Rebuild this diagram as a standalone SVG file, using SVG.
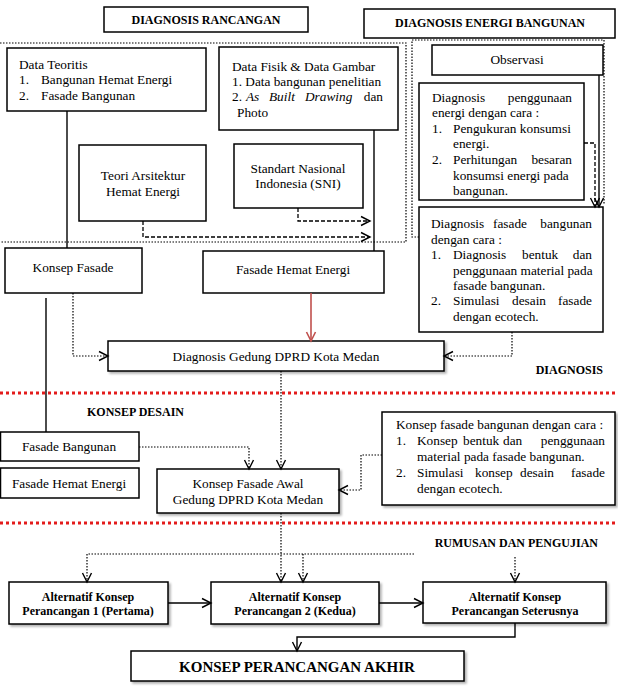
<svg xmlns="http://www.w3.org/2000/svg" width="618" height="699" viewBox="0 0 618 699">
<style>
.box{fill:#fff;stroke:#000;stroke-width:1.5}
.sh{filter:url(#shadow)}
text{font-family:"Liberation Serif","Times New Roman",serif;fill:#000}
.t{font-size:13.3px}
.b{font-size:12px;font-weight:bold}
.fin{font-size:15px;font-weight:bold}
.i{font-style:italic}
.c{text-anchor:middle}
.e{text-anchor:end}
.solid{fill:none;stroke:#000;stroke-width:1.4}
.dot{fill:none;stroke:#000;stroke-width:1.2;stroke-dasharray:1.5 1.5}
.dash{fill:none;stroke:#000;stroke-width:1.3;stroke-dasharray:4 2}
.red{fill:none;stroke:#c0504d;stroke-width:1.6}
.rdot{fill:none;stroke:#e31b1b;stroke-width:3;stroke-dasharray:3 3}
</style>
<defs>
<filter id="shadow" x="-10%" y="-20%" width="120%" height="150%">
<feDropShadow dx="2" dy="2" stdDeviation="1.2" flood-color="#000" flood-opacity="0.3"/>
</filter>
<marker id="ar" markerUnits="userSpaceOnUse" markerWidth="12" markerHeight="12" refX="10" refY="6" orient="auto">
<path d="M1,1.5 L10,6 L1,10.5" fill="none" stroke="#000" stroke-width="1.4"/>
</marker>
<marker id="arr" markerUnits="userSpaceOnUse" markerWidth="12" markerHeight="12" refX="10" refY="6" orient="auto">
<path d="M1,1.5 L10,6 L1,10.5" fill="none" stroke="#c0504d" stroke-width="1.6"/>
</marker>
</defs>

<g id="regions">
<path class="dot" d="M0,43 H406 V242 H0"/>
<path class="dot" d="M419,237 H412 V40 H604 V205"/>
<path class="rdot" d="M0,393 H618"/>
<path class="rdot" d="M0,523 H618"/>
</g>

<g id="labels">
<text class="b e" x="603" y="374">DIAGNOSIS</text>
<text class="b" x="87" y="416">KONSEP DESAIN</text>
<text class="b e" x="598" y="547">RUMUSAN DAN PENGUJIAN</text>
</g>

<g id="hdr-rancangan">
<rect class="box" x="104" y="7" width="204" height="25"/>
<text class="b c" x="206" y="24">DIAGNOSIS RANCANGAN</text>
</g>
<g id="hdr-energi">
<rect class="box" x="364" y="9" width="251" height="29"/>
<text class="b c" x="490" y="27">DIAGNOSIS ENERGI BANGUNAN</text>
</g>

<g id="data-teoritis">
<rect class="box" x="7" y="48" width="199" height="63"/>
<text class="t" x="19" y="69">Data Teoritis</text>
<text class="t" y="84"><tspan x="19">1.</tspan><tspan x="41">Bangunan Hemat Energi</tspan></text>
<text class="t" y="100"><tspan x="19">2.</tspan><tspan x="41">Fasade Bangunan</tspan></text>
</g>

<g id="data-fisik">
<rect class="box" x="219" y="47" width="179" height="83"/>
<text class="t" x="232" y="71">Data Fisik &amp; Data Gambar</text>
<text class="t" x="232" y="86">1. Data bangunan penelitian</text>
<text class="t" y="101"><tspan x="232">2.</tspan><tspan class="i" x="246">As</tspan><tspan class="i" x="269">Built</tspan><tspan class="i" x="305">Drawing</tspan></text>
<text class="t e" x="383" y="101">dan</text>
<text class="t" x="237" y="117">Photo</text>
</g>

<g id="teori">
<rect class="box" x="79" y="145" width="127" height="76"/>
<text class="t c" x="143" y="180">Teori Arsitektur</text>
<text class="t c" x="143" y="196">Hemat Energi</text>
</g>

<g id="sni">
<rect class="box" x="234" y="144" width="129" height="64"/>
<text class="t c" x="298" y="173">Standart Nasional</text>
<text class="t c" x="298" y="188">Indonesia (SNI)</text>
</g>

<g id="observasi">
<rect class="box" x="432" y="45" width="171" height="30"/>
<text class="t c" x="517" y="64">Observasi</text>
</g>

<g id="diag-energi">
<rect class="box" x="419" y="83" width="165" height="117"/>
<text class="t" x="432" y="102">Diagnosis</text>
<text class="t e" x="572" y="102">penggunaan</text>
<text class="t" x="432" y="117">energi dengan cara :</text>
<text class="t" y="132.5"><tspan x="432">1.</tspan><tspan x="453">Pengukuran konsumsi</tspan></text>
<text class="t" x="453" y="148">energi.</text>
<text class="t" y="164"><tspan x="432">2.</tspan><tspan x="453">Perhitungan</tspan></text>
<text class="t e" x="572" y="164">besaran</text>
<text class="t" x="453" y="179.5">konsumsi energi pada</text>
<text class="t" x="453" y="195">bangunan.</text>
</g>

<g id="diag-fasade">
<rect class="box" x="419" y="207" width="184" height="125"/>
<text class="t" y="228"><tspan x="431">Diagnosis</tspan><tspan x="493">fasade</tspan></text>
<text class="t e" x="592" y="228">bangunan</text>
<text class="t" x="431" y="244">dengan cara :</text>
<text class="t" y="259"><tspan x="431">1.</tspan><tspan x="453">Diagnosis</tspan><tspan x="522">bentuk</tspan></text>
<text class="t e" x="592" y="259">dan</text>
<text class="t" x="453" y="275">penggunaan material pada</text>
<text class="t" x="453" y="290">fasade bangunan.</text>
<text class="t" y="305"><tspan x="431">2.</tspan><tspan x="453">Simulasi</tspan><tspan x="512">desain</tspan></text>
<text class="t e" x="592" y="305">fasade</text>
<text class="t" x="453" y="321">dengan ecotech.</text>
</g>

<g id="konsep-fasade">
<rect class="box" x="5" y="248" width="137" height="45"/>
<text class="t c" x="73" y="272">Konsep Fasade</text>
</g>

<g id="fasade-hemat-1">
<rect class="box" x="203" y="251" width="181" height="42"/>
<text class="t c" x="293" y="274">Fasade Hemat Energi</text>
</g>

<g id="diag-gedung">
<rect class="box sh" x="108" y="341" width="336" height="30"/>
<text class="t c" x="276" y="361">Diagnosis Gedung DPRD Kota Medan</text>
</g>

<g id="fasade-bangunan">
<rect class="box" x="0.5" y="432" width="138.5" height="29"/>
<text class="t c" x="69" y="451">Fasade Bangunan</text>
</g>

<g id="fasade-hemat-2">
<rect class="box" x="0.5" y="468" width="138.5" height="30"/>
<text class="t c" x="69" y="488">Fasade Hemat Energi</text>
</g>

<g id="konsep-awal">
<rect class="box sh" x="157" y="469" width="182" height="44"/>
<text class="t c" x="248" y="488">Konsep Fasade Awal</text>
<text class="t c" x="248" y="504">Gedung DPRD Kota Medan</text>
</g>

<g id="konsep-cara">
<rect class="box sh" x="382" y="412" width="233" height="93"/>
<text class="t" x="396" y="429">Konsep fasade bangunan dengan cara :</text>
<text class="t" y="445"><tspan x="396">1.</tspan><tspan x="417">Konsep</tspan><tspan x="463">bentuk</tspan><tspan x="503">dan</tspan></text>
<text class="t e" x="605" y="445">penggunaan</text>
<text class="t" x="417" y="461">material pada fasade bangunan.</text>
<text class="t" y="477"><tspan x="396">2.</tspan><tspan x="417">Simulasi</tspan><tspan x="475">konsep</tspan><tspan x="520">desain</tspan></text>
<text class="t e" x="605" y="477">fasade</text>
<text class="t" x="417" y="493">dengan ecotech.</text>
</g>

<g id="alt-1">
<rect class="box sh" x="9" y="582" width="159" height="42"/>
<text class="b c" x="88" y="601">Alternatif Konsep</text>
<text class="b c" x="88" y="615">Perancangan 1 (Pertama)</text>
</g>

<g id="alt-2">
<rect class="box sh" x="211" y="582" width="168" height="42"/>
<text class="b c" x="295" y="601">Alternatif Konsep</text>
<text class="b c" x="295" y="615">Perancangan 2 (Kedua)</text>
</g>

<g id="alt-3">
<rect class="box sh" x="423" y="582" width="183" height="41"/>
<text class="b c" x="515" y="601">Alternatif Konsep</text>
<text class="b c" x="515" y="615">Perancangan Seterusnya</text>
</g>

<g id="final">
<rect class="box sh" x="131" y="651" width="333" height="30"/>
<text class="fin c" x="297" y="672">KONSEP PERANCANGAN AKHIR</text>
</g>

<g id="connectors">
<path class="solid" d="M67,111 V248"/>
<path class="solid" d="M374,130 V251"/>
<path class="dash" d="M143,221 V237 H370" marker-end="url(#ar)"/>
<path class="dash" d="M298,208 V221 H370" marker-end="url(#ar)"/>
<path class="solid" d="M599,75 V207" marker-end="url(#ar)"/>
<path class="dash" d="M584,143 H595 V207" marker-end="url(#ar)"/>
<path class="dot" d="M73,293 V356 H108" marker-end="url(#ar)"/>
<path class="red" d="M311,293 V341" marker-end="url(#arr)"/>
<path class="dot" d="M512,332 V356 H444" marker-end="url(#ar)"/>
<path class="solid" d="M46,298 V432"/>
<path class="dot" d="M281,371 V469" marker-end="url(#ar)"/>
<path class="dot" d="M139,447 H249 V469" marker-end="url(#ar)"/>
<path class="dot" d="M382,455 H361 V490 H339" marker-end="url(#ar)"/>
<path class="dot" d="M281,513 V582" marker-end="url(#ar)"/>
<path class="dot" d="M414,554 H87 V582" marker-end="url(#ar)"/>
<path class="dot" d="M303,554 V582" marker-end="url(#ar)"/>
<path class="dot" d="M515,557 V582" marker-end="url(#ar)"/>
<path class="solid" d="M168,603 H211" marker-end="url(#ar)"/>
<path class="solid" d="M379,603 H423" marker-end="url(#ar)"/>
<path class="solid" d="M515,623 V637 H297 V651" marker-end="url(#ar)"/>
</g>
</svg>
